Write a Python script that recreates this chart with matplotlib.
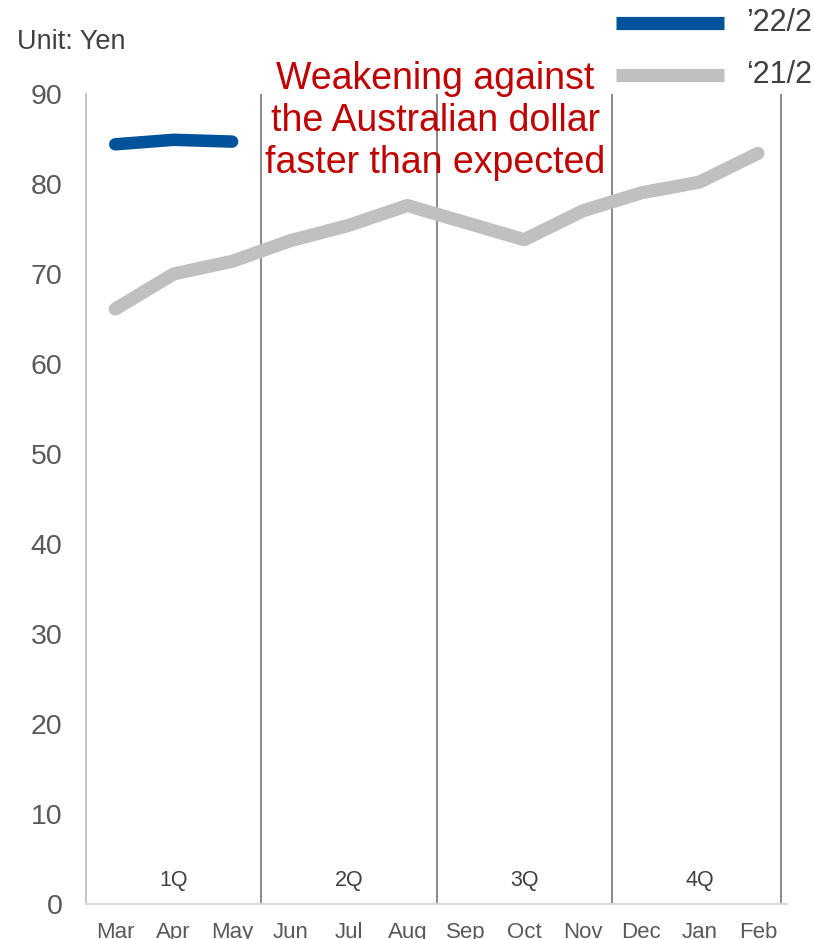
import matplotlib as mpl
mpl.use('Agg')
from matplotlib import pyplot as plt
from matplotlib.lines import Line2D

months = ['Mar', 'Apr', 'May', 'Jun', 'Jul', 'Aug', 'Sep', 'Oct', 'Nov', 'Dec', 'Jan', 'Feb']
fy21 = [66.1, 70.0, 71.4, 73.7, 75.4, 77.6, 75.7, 73.8, 77.0, 79.0, 80.2, 83.4]
fy22 = [84.4, 84.9, 84.7]
quarters = ['1Q', '2Q', '3Q', '4Q']
quarter_pos = [1, 4, 7, 10]
dividers = [2.5, 5.5, 8.5, 11.4]

plt.rc('font', family=['Liberation Sans', 'DejaVu Sans'])
fig = plt.figure(figsize=(8.14, 9.39), dpi=100)
ax = fig.add_axes([0.1057, 0.0373, 0.8613, 0.8627])

x = list(range(len(months)))
ax.plot(x, fy21, color='#c0c0c0', linewidth=9.5, solid_capstyle='round', solid_joinstyle='round', zorder=3)
ax.plot(x[:len(fy22)], fy22, color='#00529b', linewidth=9, solid_capstyle='round', solid_joinstyle='round', zorder=4)

for d in dividers:
    ax.axvline(d, color='#808080', linewidth=1.3, zorder=2)
for q, p in zip(quarters, quarter_pos):
    ax.text(p, 2.6, q, ha='center', va='center', fontsize=15.5, color='#404040')

ax.set_xlim(-0.5, 11.5)
ax.set_ylim(0, 90)
ax.set_yticks(range(0, 91, 10))
ax.set_xticks(x)
ax.set_xticklabels(months)
ax.tick_params(axis='y', length=0, pad=17, labelsize=20.5, labelcolor='#595959')
ax.tick_params(axis='x', length=0, pad=13, labelsize=16, labelcolor='#595959')
for s in ['top', 'right']:
    ax.spines[s].set_visible(False)
ax.spines['left'].set_color('#bfbfbf')
ax.spines['left'].set_linewidth(1.3)
ax.spines['bottom'].set_color('#d9d9d9')
ax.spines['bottom'].set_linewidth(1.5)

fig.text(17/814, 1 - 42/939, 'Unit: Yen', ha='left', va='center', fontsize=19.5, color='#404040')

ax.text(5.48, 87.0, 'Weakening against\nthe Australian dollar\nfaster than expected',
        ha='center', va='center', fontsize=27, color='#c00000', linespacing=1.2, zorder=5)

# legend drawn by hand
for yy, col, lab in [(23, '#00529b', '\u201922/2'), (75, '#c0c0c0', '\u201821/2')]:
    fig.add_artist(Line2D([616/814, 724/814], [1 - yy/939, 1 - yy/939], transform=fig.transFigure,
                          color=col, linewidth=9.5, solid_capstyle='butt'))
    fig.text(746/814, 1 - yy/939, lab, ha='left', va='center', fontsize=22, color='#404040')

plt.savefig('out.png', dpi=100)
